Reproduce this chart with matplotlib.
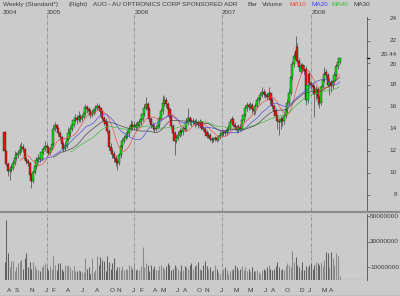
import matplotlib
matplotlib.use("Agg")
import matplotlib.pyplot as plt
from matplotlib.lines import Line2D
from matplotlib.transforms import blended_transform_factory
import numpy as np
import pandas as pd

# ---------------- data ----------------
start_date = "2004-07-12"   # first weekly bar

opens = [13.7, 12.0, 10.8, 10.2, 10.3, 10.5, 10.9, 11.4, 11.6, 11.8,
         12.1, 12.4, 12.2, 11.3, 11.1, 10.9, 9.8, 9.3, 10.1, 10.6,
         11.2, 11.4, 11.3, 11.9, 12.2, 12.5, 12.4, 11.8, 12.2, 12.6,
         14.0, 14.4, 14.1, 13.6, 13.3, 12.6, 12.2, 12.5, 13.1, 13.6,
         14.0, 14.4, 14.8, 15.0, 14.8, 15.2, 14.9, 15.1, 15.5, 16.0,
         15.8, 15.6, 15.3, 15.5, 15.7, 15.9, 16.1, 15.9, 15.6, 15.0,
         14.7, 14.5, 13.8, 12.4, 12.0, 11.7, 11.4, 11.0, 10.9, 11.6,
         12.5, 12.9, 13.2, 13.4, 13.6, 14.0, 14.4, 14.2, 14.4, 14.2,
         14.4, 14.6, 14.9, 15.4, 15.9, 16.3, 15.8, 14.9, 14.4, 14.2,
         14.0, 14.1, 14.4, 14.9, 15.6, 16.4, 16.6, 16.3, 15.8, 15.2,
         14.3, 13.6, 12.9, 13.2, 13.5, 13.8, 13.7, 14.1, 14.0, 14.6,
         15.0, 14.7, 14.6, 14.7, 14.5, 14.6, 14.4, 14.6, 14.1, 14.0,
         13.7, 13.4, 13.5, 13.1, 13.0, 13.1, 13.2, 13.0, 13.3, 13.5,
         13.6, 13.7, 13.6, 13.9, 14.1, 14.6, 14.9, 14.4, 14.2, 13.9,
         14.2, 14.0, 14.8, 15.3, 15.9, 16.2, 16.0, 16.2, 15.8, 15.6,
         16.1, 16.6, 16.8, 17.1, 17.4, 17.2, 17.1, 16.9, 17.3, 16.6,
         16.1, 15.6, 15.2, 14.7, 14.6, 14.9, 14.7, 15.2, 15.7, 16.4,
         17.3, 18.7, 19.9, 21.1, 21.5, 20.2, 19.2, 19.8, 19.5, 19.5,
         16.6, 19.0, 18.2, 18.0, 17.8, 17.2, 17.6, 16.8, 16.4, 17.8,
         18.5, 19.2, 18.9, 18.0, 18.3, 17.9, 18.4, 18.9, 19.7, 20.1]

highs = [13.8, 12.1, 11.0, 10.6, 10.8, 11.2, 12.0, 11.9, 12.1, 12.6,
         12.8, 12.6, 12.3, 11.5, 11.3, 11.0, 10.0, 10.3, 10.9, 11.5,
         11.7, 11.6, 12.1, 12.4, 12.9, 12.7, 12.5, 12.4, 12.8, 14.4,
         14.6, 14.5, 14.2, 13.8, 13.4, 12.8, 12.8, 13.4, 14.2, 14.3,
         14.7, 15.1, 15.4, 15.3, 15.6, 15.4, 15.4, 15.8, 16.3, 16.2,
         16.0, 15.8, 15.8, 15.9, 16.2, 16.4, 16.3, 16.0, 15.7, 15.2,
         15.0, 14.7, 14.0, 12.7, 12.3, 12.0, 11.6, 11.3, 11.8, 12.8,
         13.2, 13.5, 13.7, 13.9, 14.3, 14.8, 14.7, 14.7, 14.6, 14.7,
         14.9, 15.2, 15.7, 16.3, 16.9, 16.5, 16.0, 15.1, 14.6, 14.5,
         14.4, 14.7, 15.2, 15.9, 17.1, 17.0, 16.9, 16.5, 16.0, 15.3,
         14.5, 13.8, 13.5, 13.8, 14.1, 14.0, 14.3, 14.4, 15.0, 15.9,
         15.2, 15.0, 15.0, 14.9, 14.9, 14.8, 14.9, 14.8, 14.3, 14.2,
         13.9, 13.7, 13.6, 13.3, 13.3, 13.4, 13.4, 13.5, 13.8, 13.8,
         13.9, 13.9, 14.1, 14.4, 14.9, 15.2, 15.0, 14.6, 14.4, 14.5,
         14.5, 15.0, 15.6, 16.2, 16.5, 16.4, 16.5, 16.4, 16.0, 16.4,
         16.9, 17.1, 17.4, 17.8, 17.6, 17.5, 17.3, 17.8, 17.4, 16.8,
         16.3, 15.9, 15.4, 15.0, 15.2, 15.1, 15.5, 16.0, 16.7, 17.6,
         19.2, 20.2, 20.9, 22.5, 21.8, 20.5, 20.0, 20.0, 19.8, 19.7,
         18.2, 19.3, 18.4, 18.3, 18.0, 17.9, 17.8, 17.1, 18.0, 18.8,
         19.6, 19.5, 19.1, 18.6, 18.5, 18.7, 19.2, 19.9, 20.3, 20.5]

lows = [11.9, 10.6, 9.7, 9.4, 10.1, 10.3, 10.7, 11.2, 11.4, 11.6,
        11.9, 11.9, 11.1, 10.8, 10.6, 9.6, 8.6, 9.1, 9.9, 10.4,
        11.0, 11.0, 11.2, 11.7, 12.0, 12.1, 11.6, 11.6, 12.1, 12.5,
        13.8, 13.8, 13.4, 13.0, 12.4, 11.9, 12.0, 12.3, 12.9, 13.4,
        13.8, 14.2, 14.6, 14.5, 14.6, 14.6, 14.7, 15.0, 15.3, 15.5,
        15.3, 15.0, 15.1, 15.3, 15.5, 15.7, 15.6, 15.3, 14.8, 14.4,
        14.2, 13.6, 12.1, 11.7, 11.4, 11.0, 10.6, 10.3, 10.7, 11.4,
        12.2, 12.7, 13.0, 13.2, 13.4, 13.8, 13.9, 14.0, 13.9, 14.0,
        14.2, 14.4, 14.7, 15.2, 15.7, 15.5, 14.6, 14.1, 13.9, 13.7,
        13.8, 14.0, 14.2, 14.7, 15.4, 16.1, 16.0, 15.5, 15.0, 14.0,
        13.3, 11.6, 12.7, 13.0, 13.3, 13.4, 13.5, 13.8, 13.8, 14.4,
        14.4, 14.3, 14.4, 14.2, 14.3, 14.1, 14.2, 13.9, 13.8, 13.5,
        13.2, 13.2, 12.9, 12.7, 12.8, 12.9, 12.8, 12.9, 13.1, 13.3,
        13.4, 13.4, 13.5, 13.7, 13.9, 14.4, 14.2, 13.9, 13.6, 13.7,
        13.8, 13.9, 14.6, 15.1, 15.6, 15.7, 15.8, 15.5, 15.3, 15.4,
        15.9, 16.3, 16.6, 16.9, 16.9, 16.8, 16.6, 16.7, 16.3, 15.9,
        15.3, 14.9, 14.0, 13.5, 14.0, 14.3, 14.5, 15.0, 15.5, 16.2,
        17.1, 18.5, 19.6, 20.2, 20.0, 19.3, 19.0, 19.2, 19.0, 16.2,
        16.4, 17.9, 17.6, 17.3, 15.1, 16.6, 16.2, 15.9, 16.2, 17.6,
        18.3, 18.6, 17.8, 17.1, 17.4, 17.6, 18.2, 18.7, 19.5, 19.9]

closes = [12.0, 10.8, 10.2, 10.3, 10.5, 10.9, 11.4, 11.6, 11.8, 12.1,
          12.4, 12.2, 11.3, 11.1, 10.9, 9.8, 9.3, 10.1, 10.6, 11.2,
          11.4, 11.3, 11.9, 12.2, 12.5, 12.4, 11.8, 12.2, 12.6, 14.0,
          14.4, 14.1, 13.6, 13.3, 12.6, 12.2, 12.5, 13.1, 13.6, 14.0,
          14.4, 14.8, 15.0, 14.8, 15.2, 14.9, 15.1, 15.5, 16.0, 15.8,
          15.6, 15.3, 15.5, 15.7, 15.9, 16.1, 15.9, 15.6, 15.0, 14.7,
          14.5, 13.8, 12.4, 12.0, 11.7, 11.4, 11.0, 10.9, 11.6, 12.5,
          12.9, 13.2, 13.4, 13.6, 14.0, 14.4, 14.2, 14.4, 14.2, 14.4,
          14.6, 14.9, 15.4, 15.9, 16.3, 15.8, 14.9, 14.4, 14.2, 14.0,
          14.1, 14.4, 14.9, 15.6, 16.4, 16.6, 16.3, 15.8, 15.2, 14.3,
          13.6, 12.9, 13.2, 13.5, 13.8, 13.7, 14.1, 14.0, 14.6, 15.0,
          14.7, 14.6, 14.7, 14.5, 14.6, 14.4, 14.6, 14.1, 14.0, 13.7,
          13.4, 13.5, 13.1, 13.0, 13.1, 13.2, 13.0, 13.3, 13.5, 13.6,
          13.7, 13.6, 13.9, 14.1, 14.6, 14.9, 14.4, 14.2, 13.9, 14.2,
          14.0, 14.8, 15.3, 15.9, 16.2, 16.0, 16.2, 15.8, 15.6, 16.1,
          16.6, 16.8, 17.1, 17.4, 17.2, 17.1, 16.9, 17.3, 16.6, 16.1,
          15.6, 15.2, 14.7, 14.6, 14.9, 14.7, 15.2, 15.7, 16.4, 17.3,
          18.7, 19.9, 20.6, 20.4, 20.2, 19.6, 19.7, 19.5, 19.3, 16.6,
          18.0, 18.2, 18.0, 17.8, 17.2, 17.6, 16.8, 16.4, 17.8, 18.5,
          19.0, 18.9, 18.0, 18.3, 17.9, 18.4, 18.9, 19.7, 20.1, 20.44]

volumes_m = [14, 47, 21, 10, 15, 15, 7, 10, 13, 15,
             16, 9, 17, 21, 10, 14, 9, 14, 11, 9,
             8, 7, 10, 12, 13, 10, 8, 11, 9, 19,
             12, 8, 13, 13, 9, 7, 12, 11, 12, 10,
             8, 11, 7, 7, 8, 7, 6, 6, 17, 9,
             10, 5, 17, 6, 8, 19, 12, 18, 16, 15,
             7, 19, 14, 9, 13, 17, 8, 10, 10, 8,
             11, 8, 9, 9, 12, 11, 9, 13, 8, 9,
             8, 11, 26, 10, 13, 12, 7, 12, 9, 11,
             8, 8, 11, 12, 10, 9, 11, 13, 12, 8,
             9, 12, 10, 9, 7, 12, 8, 11, 10, 9,
             12, 13, 9, 11, 12, 14, 9, 8, 12, 15,
             11, 9, 10, 7, 8, 12, 9, 6, 5, 7,
             9, 10, 8, 5, 7, 8, 9, 12, 10, 8,
             9, 11, 8, 10, 7, 9, 6, 10, 7, 7,
             8, 6, 5, 8, 9, 8, 10, 12, 9, 8,
             9, 11, 14, 10, 8, 9, 8, 11, 13, 12,
             10, 23, 14, 18, 12, 10, 8, 14, 8, 11,
             10, 12, 13, 9, 12, 14, 13, 12, 14, 11,
             16, 22, 21, 10, 22, 17, 12, 21, 19, 3]

price_ticks = [8, 10, 12, 14, 16, 18, 20, 22, 24]
volume_ticks = [10000000, 30000000, 50000000]
month_dates = ["2004-08-01", "2004-09-01", "2004-11-01", "2005-01-01", "2005-02-01",
               "2005-04-01", "2005-06-01", "2005-08-01", "2005-10-01", "2005-11-01",
               "2006-01-01", "2006-02-01", "2006-04-01", "2006-05-01", "2006-07-01",
               "2006-08-01", "2006-10-01", "2006-11-01", "2007-01-01", "2007-03-01",
               "2007-05-01", "2007-07-01", "2007-08-01", "2007-10-01", "2007-12-01",
               "2008-01-01", "2008-03-01", "2008-04-01"]
month_letters = ["A", "S", "N", "J", "F", "A", "J", "A", "O", "N",
                 "J", "F", "A", "M", "J", "A", "O", "N", "J", "M",
                 "M", "J", "A", "O", "D", "J", "M", "A"]
ma_periods = [10, 20, 40, 30]
ma_names = ["MA10", "MA20", "MA40", "MA30"]
ma_colors = ["#f04848", "#4848e0", "#38b838", "#404040"]
title_parts = ["Weekly (Standard*)", "(Right)", "AUO - AU OPTRONICS CORP SPONSORED ADR",
               "Bar", "Volume"]

# ---------------- style ----------------
W, H = 400, 296
BG = "#cbcbcb"
TXT = "#3c3c3c"
FONT = "Liberation Sans"
FS = 4.6

fig = plt.figure(figsize=(W / 100, H / 100), dpi=100)
fig.patch.set_facecolor(BG)


def rect(x0, y0, x1, y1):
    return [x0 / W, 1 - y1 / H, (x1 - x0) / W, (y1 - y0) / H]


AX_RIGHT = 367
ax = fig.add_axes(rect(0, 17, AX_RIGHT, 211))
axv = fig.add_axes(rect(0, 214, AX_RIGHT, 280), sharex=ax)
for a in (ax, axv):
    a.set_facecolor(BG)
    for s in ("top", "left", "bottom"):
        a.spines[s].set_visible(False)
    a.spines["right"].set_linestyle((0, (1, 1)))
    a.spines["right"].set_color("#505050")
    a.spines["right"].set_linewidth(0.6)
    a.yaxis.tick_right()
    a.tick_params(axis="y", length=2, width=0.5, color="#505050", labelright=False,
                  labelleft=False)
    a.tick_params(axis="x", length=0, labelbottom=False)

n = len(closes)
idx = np.arange(n)
dates = pd.date_range(start_date, periods=n, freq="7D")
t0 = pd.Timestamp(start_date)

# x mapping: bar 0 at px 4.5, last bar at px 339.5
step = (339.5 - 4.5) / (n - 1)
ax.set_xlim(-4.5 / step, (AX_RIGHT - 4.5) / step)

# price limits: px y=17 top, y=211 bottom; price = (283 - y)/11
ax.set_ylim((283 - 211) / 11, (283 - 17) / 11)
axv.set_ylim(0, (280 - 214) / 1.275 * 1e6)

o = np.array(opens)
c = np.array(closes)
hi = np.array(highs)
lo = np.array(lows)
up = c >= o

# year separators
year_starts = [i for i in range(1, n) if dates[i].year != dates[i - 1].year]
for i in year_starts:
    for a in (ax, axv):
        a.axvline(i, color="#8a8a8a", lw=0.6, ls=(0, (4, 1.5, 1, 1.5)), zorder=0.5)

# candles
ax.vlines(idx, lo, hi, color="#6a6a6a", lw=0.7, zorder=2)
body_h = np.maximum(np.abs(c - o), 0.06)
ax.bar(idx, body_h, bottom=np.minimum(o, c), width=1.25,
       color=np.where(up, "#10e010", "#f01010"), edgecolor="#202020", linewidth=0.3,
       zorder=3)

# moving averages
cs = pd.Series(closes)
for p, col in zip(ma_periods, ma_colors):
    ax.plot(idx, cs.rolling(p).mean(), color=col, lw=0.45, zorder=4)

# volume
vols = np.array(volumes_m) * 1e6
axv.axhline(0, color="#808080", lw=0.8, zorder=1)
axv.vlines(idx, 0, vols, colors=np.where(up, "#8a8a8a", "#626262"), lw=0.75, zorder=2)

# right axis ticks / labels
ax.set_yticks(price_ticks)
axv.set_yticks(volume_ticks)
tr = blended_transform_factory(fig.transFigure, ax.transData)
for v in price_ticks:
    dy = -0.12 if v == 20 else 0.0
    ax.text(397 / W, v + dy, str(v), transform=tr, ha="right", va="center",
            fontsize=FS, color=TXT, family=FONT)
ax.text(397 / W, closes[-1] + 0.33, f"{closes[-1]:.2f}", transform=tr, ha="right",
        va="center", fontsize=FS, color=TXT, family=FONT)
ax.plot([AX_RIGHT / W, (AX_RIGHT + 2) / W], [closes[-1]] * 2, transform=tr,
        color="black", lw=1.0, clip_on=False)
trv = blended_transform_factory(fig.transFigure, axv.transData)
for v in volume_ticks:
    axv.text(399 / W, v, str(v), transform=trv, ha="right", va="center",
             fontsize=FS, color=TXT, family=FONT)

# month labels along the bottom
mtr = blended_transform_factory(axv.transData, fig.transFigure)
for d, lab in zip(month_dates, month_letters):
    pos = (pd.Timestamp(d) - t0).days / 7
    axv.text(pos, 1 - 291 / H, lab, transform=mtr, ha="center", va="center",
             fontsize=FS, color=TXT, family=FONT)

# year labels on top
ytr = blended_transform_factory(ax.transData, fig.transFigure)
ax.text(3 / W, 1 - 12 / H, str(dates[0].year), transform=fig.transFigure, ha="left",
        va="center", fontsize=FS, color=TXT, family=FONT)
for i in year_starts:
    ax.text(i + 0.3, 1 - 12 / H, str(dates[i].year), transform=ytr, ha="left",
            va="center", fontsize=FS, color=TXT, family=FONT)
    ax.plot([i, i], [1 - 15 / H, 1 - 17 / H], transform=ytr, color="#8a8a8a",
            lw=0.6, clip_on=False)

# title row
title_x = [3, 69, 93, 247, 262]
for x, s in zip(title_x, title_parts):
    fig.text(x / W, 1 - 4.5 / H, s, ha="left", va="center", fontsize=FS, color=TXT,
             family=FONT)
for x, s, col in zip([289, 311, 332, 353], ma_names,
                     ["#ff4040", "#4040ff", "#30c030", TXT]):
    fig.text(x / W, 1 - 4.5 / H, s, ha="left", va="center", fontsize=FS, color=col,
             family=FONT)

# panel separator and bottom line
fig.add_artist(Line2D([0, 1], [1 - 212 / H] * 2, color="#8c8c8c", lw=1.6))
fig.add_artist(Line2D([0, 1], [1 - 295.5 / H] * 2, color="#8c8c8c", lw=1.0))

fig.savefig("out.png", dpi=100, facecolor=BG)
